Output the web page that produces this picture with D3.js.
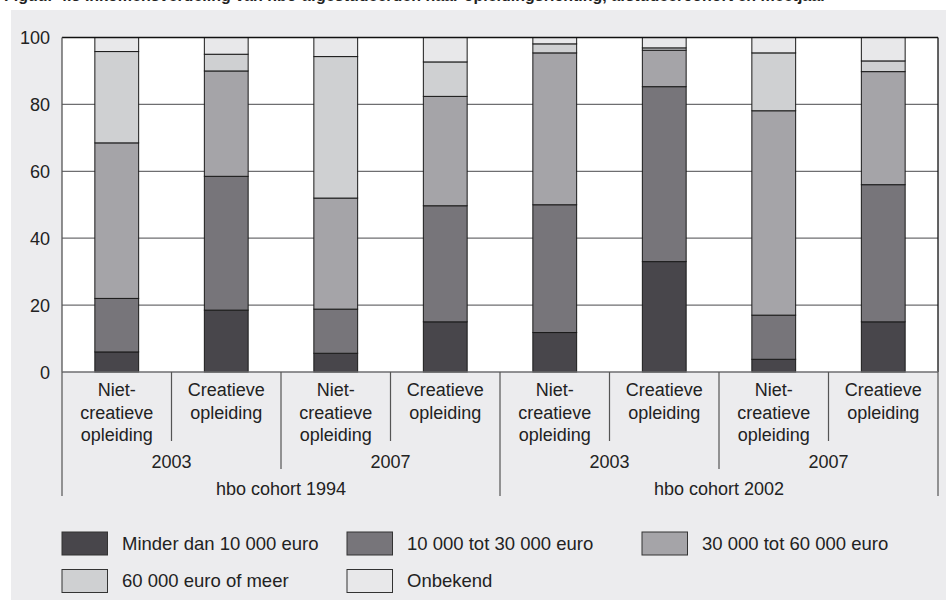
<!DOCTYPE html>
<html><head><meta charset="utf-8">
<script src="https://cdn.jsdelivr.net/npm/d3@7"></script>
<style>html,body{margin:0;padding:0;background:#fff;}svg{display:block;font-family:"Liberation Sans",Arial,sans-serif;}</style>
</head><body>
<svg id="c" width="946" height="600"></svg>
<script>
const categories = ["Niet-creatieve opleiding","Creatieve opleiding","Niet-creatieve opleiding","Creatieve opleiding","Niet-creatieve opleiding","Creatieve opleiding","Niet-creatieve opleiding","Creatieve opleiding"];
const catLines = [["Niet-","creatieve","opleiding"],["Creatieve","opleiding"]];
const years = ["2003","2007","2003","2007"];
const cohorts = ["hbo cohort 1994","hbo cohort 2002"];
const seriesNames = ["Minder dan 10 000 euro","10 000 tot 30 000 euro","30 000 tot 60 000 euro","60 000 euro of meer","Onbekend"];
const minder   = [6.0, 18.5, 5.6, 15.0, 11.8, 33.0, 3.8, 15.0];
const tot30    = [16.0, 40.0, 13.2, 34.7, 38.2, 52.3, 13.2, 41.0];
const tot60    = [46.5, 31.5, 33.2, 32.7, 45.4, 10.9, 61.1, 33.8];
const meer60   = [27.3, 5.0, 42.3, 10.3, 2.7, 0.7, 17.3, 3.2];
const onbekend = [4.2, 5.0, 5.7, 7.3, 1.9, 3.1, 4.6, 7.0];
const yTicks = [0,20,40,60,80,100];
const colors = ["#48464b","#77757a","#a5a4a8","#cfd0d2","#e8e8ea"];
const title = "Figuur 4.3 Inkomensverdeling van hbo-afgestudeerden naar opleidingsrichting, afstudeercohort en meetjaar";

const svg = d3.select("#c");
svg.append("rect").attr("x",11).attr("y",10).attr("width",946-11).attr("height",590).attr("fill","#ececee");
svg.append("text").attr("x",4).attr("y",1).attr("font-size",16).attr("font-weight","bold").attr("fill","#222").text(title);

const X0=62, X1=938, Y0=372, Y1=37.5;
const idx = d3.range(categories.length);
const x = d3.scaleBand().domain(idx).range([X0,X1]).paddingInner(0).paddingOuter(0);
const y = d3.scaleLinear().domain([0,100]).range([Y0,Y1]);
const bw = x.bandwidth()*0.4;

svg.append("rect").attr("x",X0).attr("y",Y1).attr("width",X1-X0).attr("height",Y0-Y1).attr("fill","#fff");
// grid
svg.append("g").selectAll("line").data(yTicks.filter(t=>t>0&&t<100)).join("line")
  .attr("x1",X0).attr("x2",X1).attr("y1",d=>y(d)).attr("y2",d=>y(d)).attr("stroke","#6e6e70").attr("stroke-width",1.3);

const data = idx.map(i=>({i, Minder:minder[i], T30:tot30[i], T60:tot60[i], M60:meer60[i], Onb:onbekend[i]}));
const stack = d3.stack().keys(["Minder","T30","T60","M60","Onb"])(data);
svg.append("g").selectAll("g").data(stack).join("g").attr("fill",(d,k)=>colors[k])
  .selectAll("rect").data(d=>d).join("rect")
  .attr("x",d=>x(d.data.i)+x.bandwidth()/2-bw/2).attr("width",bw)
  .attr("y",d=>y(Math.min(d[1],100))).attr("height",d=>y(d[0])-y(Math.min(d[1],100)))
  .attr("stroke","#1a1a1a").attr("stroke-width",1);

// borders
svg.append("line").attr("x1",X0).attr("x2",X1).attr("y1",Y1).attr("y2",Y1).attr("stroke","#111").attr("stroke-width",1.3);
svg.append("line").attr("x1",X1).attr("x2",X1).attr("y1",Y1).attr("y2",Y0).attr("stroke","#111").attr("stroke-width",1.3);
svg.append("line").attr("x1",X0).attr("x2",X0).attr("y1",Y1).attr("y2",Y0).attr("stroke","#555").attr("stroke-width",1.3);
svg.append("line").attr("x1",X0).attr("x2",X1).attr("y1",Y0).attr("y2",Y0).attr("stroke","#6e6e70").attr("stroke-width",1.5);

// y axis labels
const yAxis = d3.axisLeft(y).tickValues(yTicks).tickSize(0).tickPadding(12);
const ga = svg.append("g").attr("transform",`translate(${X0},0)`).call(yAxis);
ga.select(".domain").remove();
ga.selectAll("text").attr("font-size",18).attr("fill","#222").attr("font-family","Liberation Sans, Arial, sans-serif").attr("dy","0.35em");

// x axis hierarchical labels
const fs=18;
const g = svg.append("g").attr("font-size",fs).attr("fill","#222").attr("text-anchor","middle");
const lineY=[396,418.5,441];
idx.forEach(i=>{
  const lines = categories[i].startsWith("Niet") ? catLines[0] : catLines[1];
  lines.forEach((t,k)=>g.append("text").attr("x",x(i)+x.bandwidth()/2).attr("y",lineY[k]).text(t));
  if(i%2===0) svg.append("line").attr("x1",x(i)+x.bandwidth()).attr("x2",x(i)+x.bandwidth()).attr("y1",Y0).attr("y2",441).attr("stroke","#555").attr("stroke-width",1.2);
});
years.forEach((t,j)=>{
  const cx = x(j*2)+x.bandwidth();
  g.append("text").attr("x",cx).attr("y",468).text(t);
  if(j%2===0) svg.append("line").attr("x1",x(j*2)+2*x.bandwidth()).attr("x2",x(j*2)+2*x.bandwidth()).attr("y1",Y0).attr("y2",469).attr("stroke","#555").attr("stroke-width",1.2);
});
cohorts.forEach((t,j)=>{
  const cx = x(j*4)+2*x.bandwidth();
  g.append("text").attr("x",cx).attr("y",495).text(t);
});
[X0, x(4), X1].forEach(xx=>svg.append("line").attr("x1",xx).attr("x2",xx).attr("y1",Y0).attr("y2",496).attr("stroke","#555").attr("stroke-width",1.2));

// legend
const legPos = [[62,532],[347,532],[642,532],[62,569.5],[347,569.5]];
const lg = svg.append("g");
seriesNames.forEach((n,k)=>{
  const [lx,ly]=legPos[k];
  lg.append("rect").attr("x",lx).attr("y",ly).attr("width",45.5).attr("height",23).attr("fill",colors[k]).attr("stroke","#333").attr("stroke-width",1);
  lg.append("text").attr("x",lx+60).attr("y",ly+17.5).attr("font-size",18.5).attr("fill","#222").text(n);
});
</script>
</body></html>
